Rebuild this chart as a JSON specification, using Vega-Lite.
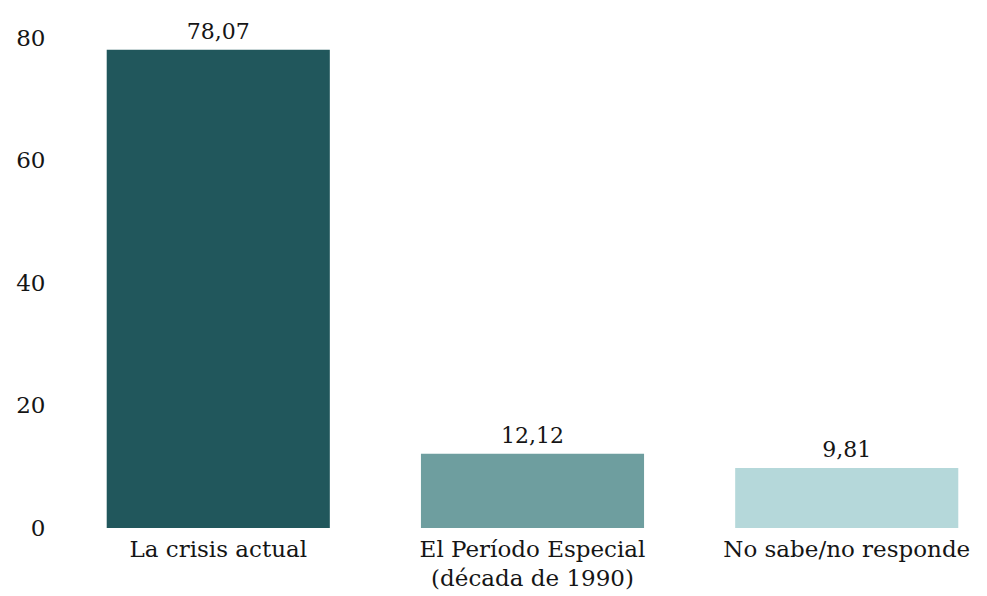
{
  "$schema": "https://vega.github.io/schema/vega-lite/v6.json",
  "autosize": "none",
  "width": 883,
  "height": 490,
  "padding": {"left": 91, "top": 38, "right": 13, "bottom": 68},
  "background": "white",
  "config": {
    "view": {"stroke": null},
    "font": "DejaVu Serif",
    "locale": {"number": {"decimal": ",", "thousands": ".", "grouping": [3], "currency": ["", ""]}}
  },
  "data": {
    "values": [
      {"cat": "La crisis actual", "value": 78.07},
      {"cat": "El Período Especial (década de 1990)", "value": 12.12},
      {"cat": "No sabe/no responde", "value": 9.81}
    ]
  },
  "encoding": {
    "x": {
      "field": "cat", "type": "nominal", "sort": null,
      "scale": {"paddingInner": 0.29, "paddingOuter": 0.05},
      "axis": {
        "title": null, "labelAngle": 0, "domain": false, "ticks": false,
        "labelFont": "DejaVu Serif", "labelFontSize": 23, "labelColor": "#151515",
        "labelPadding": 10, "labelLimit": 400,
        "labelExpr": "datum.value == 'El Período Especial (década de 1990)' ? ['El Período Especial', '(década de 1990)'] : datum.value",
        "labelLineHeight": 29
      }
    },
    "y": {
      "field": "value", "type": "quantitative",
      "scale": {"domain": [0, 80], "nice": false},
      "axis": {
        "title": null, "domain": false, "ticks": false, "grid": false,
        "values": [0, 20, 40, 60, 80],
        "labelFont": "DejaVu Serif", "labelFontSize": 23, "labelColor": "#151515",
        "labelPadding": 46
      }
    }
  },
  "layer": [
    {
      "mark": {"type": "bar"},
      "encoding": {
        "color": {
          "field": "cat", "type": "nominal", "sort": null, "legend": null,
          "scale": {
            "domain": ["La crisis actual", "El Período Especial (década de 1990)", "No sabe/no responde"],
            "range": ["#21575c", "#6e9e9f", "#b5d8da"]
          }
        }
      }
    },
    {
      "mark": {"type": "text", "baseline": "alphabetic", "dy": -11, "fontSize": 22, "font": "DejaVu Serif", "color": "#151515"},
      "encoding": {
        "text": {"field": "value", "type": "quantitative", "format": ".2f"}
      }
    }
  ]
}
